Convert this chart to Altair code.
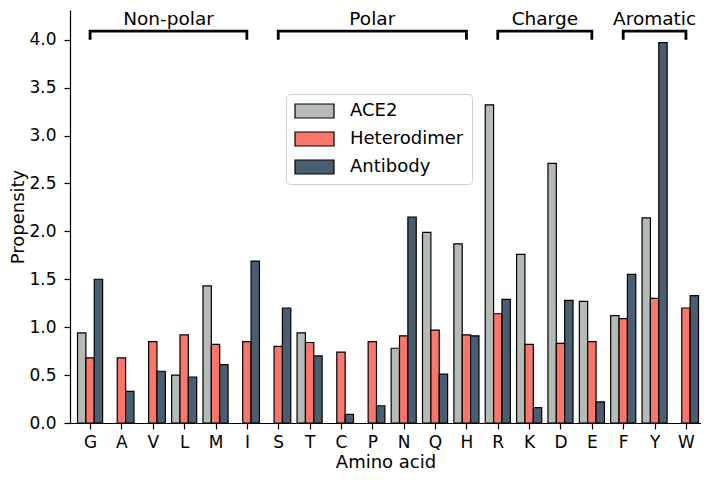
import altair as alt
import pandas as pd

amino = ["G", "A", "V", "L", "M", "I", "S", "T", "C", "P",
         "N", "Q", "H", "R", "K", "D", "E", "F", "Y", "W"]
series = ["ACE2", "Heterodimer", "Antibody"]
colors = ["#b4bab6", "#f8766b", "#4b5e71"]

ace2 = [0.94, None, None, 0.50, 1.43, None, None, 0.94, None, None,
        0.78, 1.99, 1.87, 3.32, 1.76, 2.71, 1.27, 1.12, 2.14, None]
hetero = [0.68, 0.68, 0.85, 0.92, 0.82, 0.85, 0.80, 0.84, 0.74, 0.85,
          0.91, 0.97, 0.92, 1.14, 0.82, 0.83, 0.85, 1.09, 1.30, 1.20]
antibody = [1.50, 0.33, 0.54, 0.48, 0.61, 1.69, 1.20, 0.70, 0.09, 0.18,
            2.15, 0.51, 0.91, 1.29, 0.16, 1.28, 0.22, 1.55, 3.97, 1.33]

groups = ["Non-polar", "Polar", "Charge", "Aromatic"]
group_start = ["G", "S", "R", "F"]
group_end = ["I", "H", "E", "W"]
bracket_low = 4.0
bracket_high = 4.09
label_y = 4.155

rows = []
for k, (name, vals) in enumerate(zip(series, [ace2, hetero, antibody])):
    for i, (aa, v) in enumerate(zip(amino, vals)):
        if v is not None:
            rows.append({"aa": aa, "idx": i, "series": name, "k": k, "value": v})
bars_df = pd.DataFrame(rows)

br_rows = []
txt_rows = []
for g, s, e in zip(groups, group_start, group_end):
    si, ei = amino.index(s), amino.index(e)
    for o, (xi, yv) in enumerate([(si, bracket_low), (si, bracket_high),
                                  (ei, bracket_high), (ei, bracket_low)]):
        br_rows.append({"group": g, "order": o, "pos": xi, "y": yv})
    txt_rows.append({"group": g, "pos": (si + ei) / 2, "y": label_y})
br_df = pd.DataFrame(br_rows)
txt_df = pd.DataFrame(txt_rows)

bar_w = 0.8 / 3
PLOT_W = 631
PLOT_H = 413
xscale = alt.Scale(domain=[-0.64, 19.48], nice=False, zero=False)
yscale = alt.Scale(domain=[0, 4.31], nice=False)

label_expr = "[" + ",".join("'%s'" % a for a in amino) + "][datum.value]"

x_axis = alt.Axis(values=list(range(len(amino))), labelExpr=label_expr,
                  labelOverlap=False, labelFlush=False,
                  title="Amino acid", labelPadding=5,
                  titleBaseline="alphabetic", titleY=44)
y_axis = alt.Axis(values=[0, 0.5, 1, 1.5, 2, 2.5, 3, 3.5, 4], format=".1f",
                  labelOverlap=False, labelFlush=False,
                  title="Propensity", labelPadding=8,
                  titleX=-52, titleY=PLOT_H / 2, titleAngle=-90,
                  titleBaseline="middle", titleAlign="center")

bars = alt.Chart(bars_df).transform_calculate(
    x0=f"datum.idx - 0.4 + datum.k * {bar_w}",
    x1=f"datum.idx - 0.4 + (datum.k + 1) * {bar_w}",
).mark_bar(stroke="black", strokeWidth=1.2).encode(
    x=alt.X("x0:Q", scale=xscale, axis=x_axis),
    x2="x1:Q",
    y=alt.Y("value:Q", scale=yscale, axis=y_axis),
    y2=alt.datum(0),
    color=alt.Color("series:N",
                    scale=alt.Scale(domain=series, range=colors),
                    legend=alt.Legend(
                        title=None, orient="none", legendX=216, legendY=84,
                        symbolType="M-1,-0.36L1,-0.36L1,0.36L-1,0.36Z",
                        symbolSize=1521, symbolStrokeColor="black",
                        symbolStrokeWidth=1.2, symbolOpacity=1,
                        labelFontSize=18, labelOffset=15, labelFont="DejaVu Sans",
                        labelColor="black", rowPadding=10, padding=8,
                        strokeColor="#d0d0d0", fillColor="white",
                        cornerRadius=4, clipHeight=18)),
)

brackets = alt.Chart(br_df).mark_line(color="black", strokeWidth=2.8,
                                      strokeJoin="miter", strokeCap="butt").encode(
    x=alt.X("pos:Q", scale=xscale, axis=x_axis),
    y=alt.Y("y:Q", scale=yscale, axis=y_axis),
    detail="group:N",
    order="order:Q",
)

texts = alt.Chart(txt_df).mark_text(fontSize=18.5, font="DejaVu Sans", color="black",
                                    baseline="alphabetic", align="center").encode(
    x=alt.X("pos:Q", scale=xscale, axis=x_axis),
    y=alt.Y("y:Q", scale=yscale, axis=y_axis),
    text="group:N",
)

chart = alt.layer(bars, brackets, texts).properties(
    width=PLOT_W, height=PLOT_H,
    autosize=alt.AutoSizeParams(type="none"),
    padding={"left": 62, "top": 2, "right": 0, "bottom": 49},
).configure_view(stroke=None).configure_axis(
    grid=False, domainColor="black", domainWidth=1.2, tickColor="black",
    tickWidth=1.2, tickSize=6, labelFont="DejaVu Sans", labelFontSize=17,
    labelColor="black", titleFont="DejaVu Sans", titleFontSize=18,
    titleFontWeight="normal", titleColor="black",
)

chart.save("out.html", embed_options={"renderer": "svg", "actions": False})
